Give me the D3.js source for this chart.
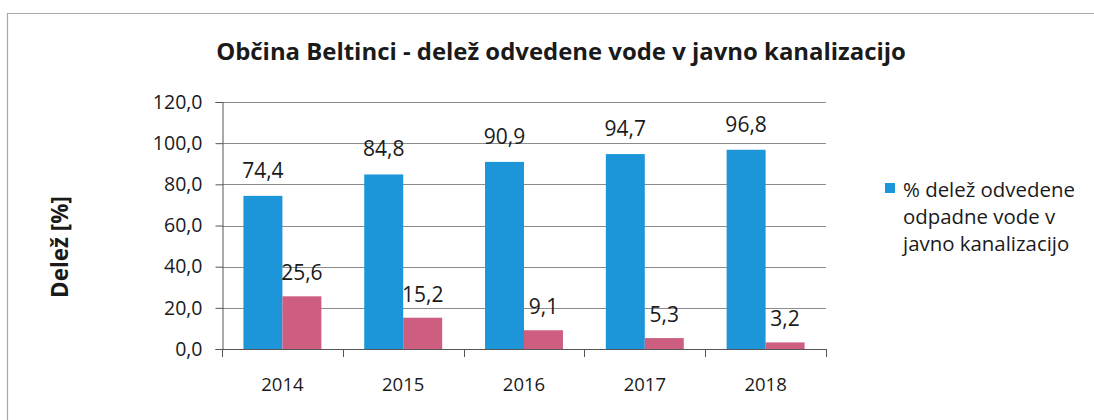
<!DOCTYPE html>
<html>
<head>
<meta charset="utf-8">
<script src="https://cdn.jsdelivr.net/npm/d3@7"></script>
<style>
  html, body { margin: 0; padding: 0; background: #fff; }
  svg { display: block; font-family: "Open Sans", sans-serif; }
</style>
</head>
<body>
<svg id="chart" width="1094" height="420"></svg>
<script>
const title = "Občina Beltinci - delež odvedene vode v javno kanalizacijo";
const yAxisTitle = "Delež [%]";
const years = ["2014", "2015", "2016", "2017", "2018"];
const seriesNames = ["% delež odvedene odpadne vode v javno kanalizacijo", "% delež neodvedene vode"];
const connected = [74.4, 84.8, 90.9, 94.7, 96.8];
const notConnected = [25.6, 15.2, 9.1, 5.3, 3.2];
const yTicks = [0, 20, 40, 60, 80, 100, 120];
const legendLines = ["% delež odvedene", "odpadne vode v", "javno kanalizacijo"];
const colors = ["#1d96d9", "#cd5e80"];

const svg = d3.select("#chart");
const fmt = v => d3.format(".1f")(v).replace(".", ",");

// fit a text's font size so that its width equals a target
function fitWidth(sel, base, target) {
  sel.attr("font-size", base);
  const w = sel.node().getComputedTextLength();
  sel.attr("font-size", base * target / w);
}

// frame
svg.append("path").attr("d", "M7.5,420 V13.5 H1094")
  .attr("fill", "none").attr("stroke", "#a8a8a8").attr("stroke-width", 1.2);

const plot = { left: 222, right: 826, top: 102, bottom: 349 };
const x0 = d3.scaleBand().domain(years).range([plot.left, plot.right]).padding(0);
const x1 = d3.scaleBand().domain([0, 1]).range([0, x0.bandwidth()]).paddingInner(0).paddingOuter(0.55);
const y = d3.scaleLinear().domain([0, 120]).range([plot.bottom, plot.top]);

// gridlines
svg.append("g").selectAll("line").data(yTicks.filter(t => t > 0)).join("line")
  .attr("x1", plot.left).attr("x2", plot.right)
  .attr("y1", d => Math.round(y(d)) + 0.5).attr("y2", d => Math.round(y(d)) + 0.5)
  .attr("stroke", "#8c8c8c").attr("stroke-width", 1);

// bars
const data = years.map((yr, i) => ({ yr, vals: [connected[i], notConnected[i]] }));
const groups = svg.append("g").selectAll("g").data(data).join("g")
  .attr("transform", d => `translate(${x0(d.yr)},0)`);
groups.selectAll("rect").data(d => d.vals.map((v, k) => ({ v, k }))).join("rect")
  .attr("x", d => x1(d.k)).attr("width", x1.bandwidth())
  .attr("y", d => y(d.v)).attr("height", d => y(0) - y(d.v))
  .attr("fill", d => colors[d.k]);

// data labels
groups.selectAll("text").data(d => d.vals.map((v, k) => ({ v, k }))).join("text")
  .attr("x", d => x1(d.k) + x1.bandwidth() / 2)
  .attr("y", d => y(d.v) - (d.k === 0 ? 18 : 16))
  .attr("text-anchor", "middle")
  .attr("font-size", 21).attr("fill", "#1a1a1a")
  .text(d => fmt(d.v));

// y axis
const yAxis = d3.axisLeft(y).tickValues(yTicks).tickSize(7).tickPadding(13).tickFormat(fmt);
const gy = svg.append("g").attr("transform", `translate(${plot.left + 0.5},0)`).call(yAxis);
gy.select(".domain").attr("stroke", "#555");
gy.selectAll(".tick line").attr("stroke", "#555");
gy.selectAll(".tick text").attr("font-size", 19.5).attr("fill", "#1a1a1a")
  .attr("font-family", "Open Sans, sans-serif");

// x axis
const xAxis = d3.axisBottom(x0).tickSize(0).tickPadding(0);
const gx = svg.append("g").attr("transform", `translate(0,${plot.bottom + 0.5})`).call(xAxis);
gx.select(".domain").attr("stroke", "#555").attr("d", `M${plot.left},0H${plot.right}`);
gx.selectAll(".tick text").attr("font-size", 18.5).attr("fill", "#1a1a1a")
  .attr("font-family", "Open Sans, sans-serif").attr("dy", 0).attr("y", 41);
// category boundary ticks
svg.append("g").selectAll("line").data(years.concat(["end"])).join("line")
  .attr("x1", (d, i) => Math.round(plot.left + i * x0.step()) + 0.5)
  .attr("x2", (d, i) => Math.round(plot.left + i * x0.step()) + 0.5)
  .attr("y1", plot.bottom).attr("y2", plot.bottom + 8)
  .attr("stroke", "#555");

// y axis title
const yt = svg.append("text")
  .attr("transform", "translate(68,247) rotate(-90)")
  .attr("text-anchor", "middle")
  .attr("font-weight", "bold").attr("fill", "#1a1a1a")
  .text(yAxisTitle);
fitWidth(yt, 18, 102);

// title
const t = svg.append("text")
  .attr("x", 561).attr("y", 60)
  .attr("text-anchor", "middle")
  .attr("font-weight", "bold").attr("fill", "#1a1a1a")
  .text(title);
fitWidth(t, 20, 690);

// legend
svg.append("rect").attr("x", 885).attr("y", 183).attr("width", 10).attr("height", 10).attr("fill", colors[0]);
const lg = svg.append("g").selectAll("text").data(legendLines).join("text")
  .attr("x", 903).attr("y", (d, i) => 197 + i * 27)
  .attr("fill", "#1a1a1a")
  .text(d => d);
const first = lg.filter((d, i) => i === 0);
first.attr("font-size", 18);
const fs = 18 * 172 / first.node().getComputedTextLength();
lg.attr("font-size", fs);
</script>
</body>
</html>
